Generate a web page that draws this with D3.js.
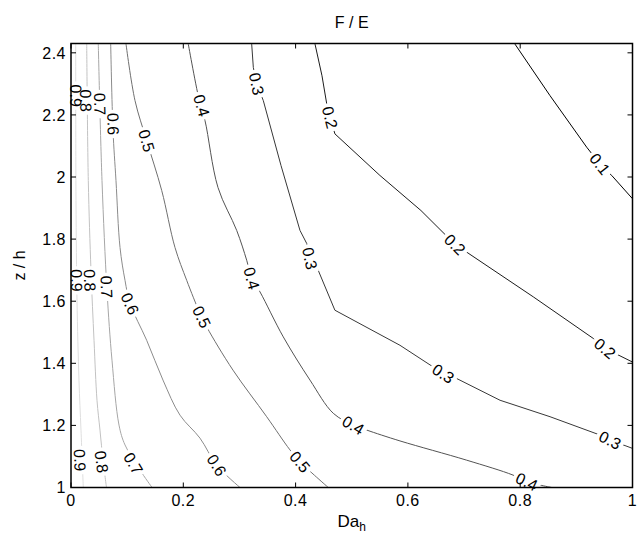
<!DOCTYPE html>
<html><head><meta charset="utf-8">
<script src="https://cdn.jsdelivr.net/npm/d3@7"></script>
<style>
body{margin:0;background:#fff}
svg{display:block}
text{font-family:"Liberation Sans",Arial,Helvetica,sans-serif;fill:#000}
</style>
</head><body>
<svg id="chart" width="638" height="536"></svg>
<script>
// ---- data: contour polylines [Da_h, z/h] for each level of F/E ----
const levels = [0.1, 0.2, 0.3, 0.4, 0.5, 0.6, 0.7, 0.8, 0.9];
const xTicks = [0, 0.2, 0.4, 0.6, 0.8, 1];
const yTicks = [1, 1.2, 1.4, 1.6, 1.8, 2, 2.2, 2.4];
const xTickLabels = ["0", "0.2", "0.4", "0.6", "0.8", "1"];
const yTickLabels = ["1", "1.2", "1.4", "1.6", "1.8", "2", "2.2", "2.4"];

const c01 = [[0.7907,2.428],[0.8531,2.262],[0.9184,2.096],[0.9421,2.042],[0.9630,2.005],[1.0,1.930]];
const c02 = [[0.4346,2.428],[0.447,2.326],[0.4554,2.236],[0.4613,2.192],[0.47,2.139],[0.5502,2.005],[0.6233,1.892],[0.6661,1.815],[0.6839,1.783],[0.7047,1.758],[0.8233,1.614],[0.9302,1.480],[0.951,1.448],[1.0,1.404]];
const c03 = [[0.3218,2.428],[0.3247,2.353],[0.3307,2.300],[0.3425,2.246],[0.374,2.037],[0.4078,1.828],[0.4198,1.786],[0.4256,1.738],[0.4404,1.699],[0.47,1.571],[0.5859,1.458],[0.6452,1.388],[0.663,1.367],[0.6869,1.351],[0.7641,1.281],[0.8531,1.228],[0.9421,1.169],[0.9599,1.153],[1.0,1.126]];
const c04 = [[0.2089,2.428],[0.2297,2.236],[0.2386,2.182],[0.2618,1.966],[0.2951,1.828],[0.3129,1.732],[0.3218,1.674],[0.3366,1.630],[0.3781,1.485],[0.4256,1.346],[0.4671,1.239],[0.5028,1.201],[0.5266,1.185],[0.5859,1.150],[0.7047,1.088],[0.7872,1.040],[0.8116,1.019],[0.8561,1.0]];
const c05 = [[0.098,2.428],[0.114,2.246],[0.1348,2.117],[0.1615,1.957],[0.1852,1.773],[0.2061,1.667],[0.2297,1.561],[0.2417,1.517],[0.2885,1.378],[0.3485,1.228],[0.3900,1.121],[0.4078,1.083],[0.4582,1.0]];
const c06 = [[0.0707,2.428],[0.0748,2.150],[0.0801,1.989],[0.0873,1.773],[0.0962,1.667],[0.1051,1.593],[0.1348,1.474],[0.1638,1.346],[0.1941,1.233],[0.2297,1.159],[0.2595,1.072],[0.301,1.0]];
const c07 = [[0.0486,2.428],[0.0552,1.989],[0.0641,1.635],[0.073,1.41],[0.0855,1.201],[0.0962,1.137],[0.1229,1.056],[0.1443,1.0]];
const c08 = [[0.028,2.428],[0.0308,1.989],[0.0356,1.699],[0.041,1.474],[0.0463,1.281],[0.0516,1.185],[0.057,1.088],[0.0632,1.0]];
const c09 = [[0.0084,2.428],[0.0089,1.924],[0.0107,1.603],[0.0142,1.346],[0.0178,1.185],[0.0219,1.0]];

// label anchor points [Da_h, z/h] on each contour
const lab01 = [[0.9421,2.042]];
const lab02 = [[0.4613,2.192],[0.6839,1.783],[0.951,1.448]];
const lab03 = [[0.3307,2.300],[0.4256,1.738],[0.663,1.367],[0.9599,1.153]];
const lab04 = [[0.2328,2.23],[0.3218,1.674],[0.5028,1.201],[0.8116,1.019]];
const lab05 = [[0.1348,2.117],[0.2328,1.549],[0.4078,1.083]];
const lab06 = [[0.0753,2.171],[0.1051,1.592],[0.2595,1.072]];
const lab07 = [[0.0516,2.235],[0.0636,1.646],[0.111,1.078]];
const lab08 = [[0.0267,2.246],[0.0338,1.667],[0.0547,1.083]];
const lab09 = [[0.0089,2.262],[0.0102,1.667],[0.016,1.088]];

const contours = [c01,c02,c03,c04,c05,c06,c07,c08,c09];
const labelSets = [lab01,lab02,lab03,lab04,lab05,lab06,lab07,lab08,lab09];

// ---- drawing ----
const svg = d3.select("#chart");
const W = 638, H = 536;
const x = d3.scaleLinear().domain([0, 1]).range([71, 632.5]);
const y = d3.scaleLinear().domain([1, 2.43]).range([487.5, 43.5]);
const gray = d3.scaleLinear().domain([0.1, 0.9]).range(["#000000", "#dedede"]);
const fs = 16, lfs = 16;

const defs = svg.append("defs");
defs.append("clipPath").attr("id", "plotclip").append("rect")
  .attr("x", x(0)).attr("y", y(2.43)).attr("width", x(1) - x(0)).attr("height", y(1) - y(2.43));

const lineSharp = d3.line().x(d => x(d[0])).y(d => y(d[1]));
const lineSmooth = d3.line().x(d => x(d[0])).y(d => y(d[1])).curve(d3.curveCatmullRom.alpha(0.5));

function angleAt(pts, px, py) {
  let best = Infinity, ang = 0;
  for (let i = 0; i < pts.length - 1; i++) {
    const ax = x(pts[i][0]), ay = y(pts[i][1]), bx = x(pts[i+1][0]), by = y(pts[i+1][1]);
    const dx = bx - ax, dy = by - ay, L2 = dx*dx + dy*dy;
    let t = ((px - ax)*dx + (py - ay)*dy) / L2; t = Math.max(0, Math.min(1, t));
    const qx = ax + t*dx, qy = ay + t*dy, d = (px-qx)*(px-qx) + (py-qy)*(py-qy);
    if (d < best) { best = d; ang = Math.atan2(dy, dx) * 180 / Math.PI; }
  }
  while (ang > 90) ang -= 180;
  while (ang <= -90) ang += 180;
  return ang;
}

const linesG = svg.append("g").attr("clip-path", "url(#plotclip)");
const labelsG = svg.append("g");

levels.forEach((lv, i) => {
  const pts = contours[i];
  const labs = labelSets[i].map(p => {
    const px = x(p[0]), py = y(p[1]);
    return {px, py, a: angleAt(pts, px, py)};
  });
  const txt = labelsG.selectAll(null).data(labs).enter().append("text")
    .attr("transform", d => `translate(${d.px},${d.py}) rotate(${d.a})`)
    .attr("text-anchor", "middle").attr("dy", "0.36em")
    .style("font-size", lfs + "px")
    .text(String(lv));
  const widths = [];
  txt.each(function(){ widths.push(this.getComputedTextLength()); });
  const mask = defs.append("mask").attr("id", "m" + i)
    .attr("maskUnits", "userSpaceOnUse").attr("x", 0).attr("y", 0).attr("width", W).attr("height", H);
  mask.append("rect").attr("x", 0).attr("y", 0).attr("width", W).attr("height", H).attr("fill", "#fff");
  mask.selectAll(null).data(labs).enter().append("rect")
    .attr("transform", d => `translate(${d.px},${d.py}) rotate(${d.a})`)
    .attr("x", (d, j) => -widths[j]/2 - 3).attr("y", -6)
    .attr("width", (d, j) => widths[j] + 6).attr("height", 12)
    .attr("fill", "#000");
  linesG.append("path").datum(pts)
    .attr("d", lv <= 0.3 ? lineSharp : lineSmooth).attr("fill", "none")
    .attr("stroke", gray(lv)).attr("stroke-width", 1)
    .attr("mask", `url(#m${i})`);
});

// axes box and ticks (inside)
const axG = svg.append("g");
const tl = 5;
axG.append("rect").attr("x", x(0)).attr("y", y(2.43)).attr("width", x(1) - x(0)).attr("height", y(1) - y(2.43))
  .attr("fill", "none").attr("stroke", "#000").attr("stroke-width", 1.5);
xTicks.forEach((t, i) => {
  axG.append("line").attr("x1", x(t)).attr("x2", x(t)).attr("y1", y(1)).attr("y2", y(1) - tl).attr("stroke", "#000");
  axG.append("line").attr("x1", x(t)).attr("x2", x(t)).attr("y1", y(2.43)).attr("y2", y(2.43) + tl).attr("stroke", "#000");
  axG.append("text").attr("x", x(t)).attr("y", y(1) + 18).attr("text-anchor", "middle")
    .style("font-size", fs + "px").style("letter-spacing", "0.5px").text(xTickLabels[i]);
});
yTicks.forEach((t, i) => {
  axG.append("line").attr("x1", x(0)).attr("x2", x(0) + tl).attr("y1", y(t)).attr("y2", y(t)).attr("stroke", "#000");
  axG.append("line").attr("x1", x(1)).attr("x2", x(1) - tl).attr("y1", y(t)).attr("y2", y(t)).attr("stroke", "#000");
  axG.append("text").attr("x", x(0) - 5).attr("y", y(t)).attr("dy", "0.36em").attr("text-anchor", "end")
    .style("font-size", fs + "px").style("letter-spacing", "0.5px").text(yTickLabels[i]);
});

// titles
svg.append("text").attr("x", (x(0) + x(1)) / 2).attr("y", 28).attr("text-anchor", "middle")
  .style("font-size", fs + "px").text("F / E");
const xl = svg.append("text").attr("x", (x(0) + x(1)) / 2).attr("y", 527).attr("text-anchor", "middle")
  .style("font-size", "17px");
xl.append("tspan").text("Da");
xl.append("tspan").attr("dy", 4).style("font-size", "12px").text("h");
svg.append("text").attr("transform", `translate(25,${(y(1) + y(2.43)) / 2}) rotate(-90)`)
  .attr("text-anchor", "middle").style("font-size", "16px").text("z / h");
</script>
</body></html>
